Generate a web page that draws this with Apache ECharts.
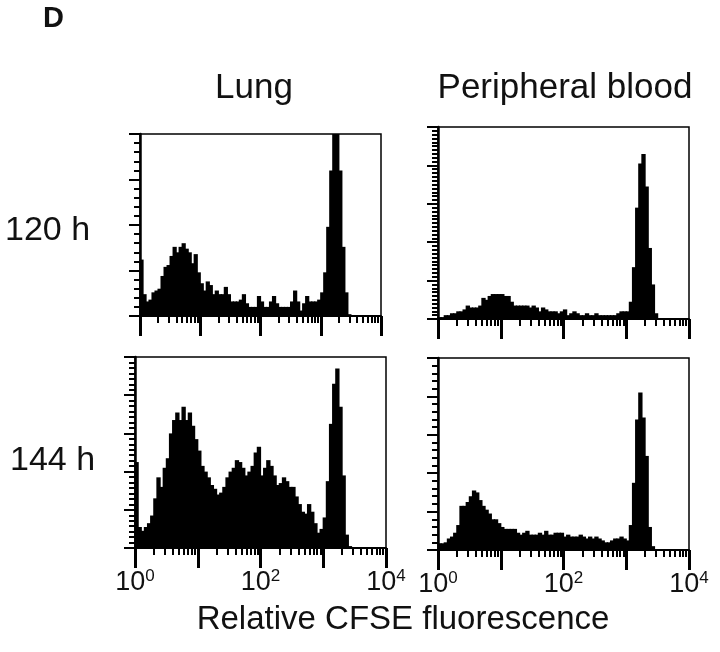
<!DOCTYPE html>
<html>
<head>
<meta charset="utf-8">
<script src="https://cdn.jsdelivr.net/npm/echarts@6/dist/echarts.min.js"></script>
<style>
  html, body { margin: 0; padding: 0; background: #fff; }
  #chart { width: 720px; height: 652px; }
</style>
</head>
<body>
<div id="chart"></div>
<script>
// ---- data (x bins are in log10 units, 0.05 decade per bin, from 10^0 to 10^4) ----
const binWidth = 0.05;
const tickExponents = [0, 2, 4];
const panelTitles = ['Lung', 'Peripheral blood'];
const rowLabels = ['120 h', '144 h'];
const axisTitle = 'Relative CFSE fluorescence';
const panelLetter = 'D';

// Lung, 120 h (relative event counts, % of panel height)
const lung120 = [31, 12, 8, 9, 13, 14, 15, 22, 27, 28,
                 33, 38, 35, 38, 40, 37, 35, 29, 34, 24,
                 18, 14, 19, 17, 12, 14, 12, 12, 16, 12,
                 8, 8, 8, 9, 12, 7, 5, 5, 5, 11,
                 8, 5, 5, 8, 11, 7, 5, 5, 5, 5,
                 8, 14, 8, 3, 7, 11, 8, 8, 8, 9,
                 13, 24, 49, 80, 100, 100, 80, 38, 13, 1,
                 0, 0, 0, 0, 0, 0, 0, 0, 0, 0];
// Peripheral blood, 120 h
const blood120 = [1, 1, 2, 2, 3, 3, 4, 4, 5, 7,
                  6, 6, 6, 7, 11, 10, 12, 13, 13, 13,
                  13, 12, 12, 9, 7, 7, 7, 7, 7, 6,
                  7, 6, 4, 6, 5, 4, 4, 4, 3, 4,
                  5, 2, 3, 4, 3, 2, 2, 3, 2, 2,
                  3, 2, 2, 2, 2, 2, 2, 3, 4, 4,
                  4, 9, 27, 58, 81, 86, 69, 37, 18, 3,
                  0, 0, 0, 0, 0, 0, 0, 0, 0, 0];
// Lung, 144 h
const lung144 = [45, 11, 9, 11, 13, 17, 26, 37, 32, 42,
                 47, 60, 67, 71, 67, 74, 67, 71, 64, 57,
                 51, 43, 40, 37, 33, 31, 28, 29, 32, 37,
                 40, 42, 46, 45, 42, 38, 40, 43, 50, 53,
                 38, 42, 46, 43, 38, 33, 34, 37, 35, 32,
                 32, 27, 23, 19, 18, 23, 19, 13, 8, 10,
                 16, 35, 65, 86, 94, 74, 38, 7, 1, 0,
                 0, 0, 0, 0, 0, 0, 0, 0, 0, 0];
// Peripheral blood, 144 h
const blood144 = [3.5, 3.5, 4, 6, 7, 9, 13, 23, 23, 25,
                  28, 31, 30, 26, 23, 21, 19, 16, 16, 14,
                  12, 11, 11, 11, 11, 9, 8, 9, 10, 8,
                  8, 8, 9, 8, 10, 8, 8, 9, 9, 9,
                  7, 8, 7, 7, 7, 8, 7, 6, 7, 6,
                  7, 6, 5, 4, 4, 5, 6, 6, 7, 6,
                  5, 13, 35, 68, 82, 69, 49, 12, 2, 0,
                  0, 0, 0, 0, 0, 0, 0, 0, 0, 0];

// ---- layout / style ----
const FONT = '"Liberation Sans", Arial, Helvetica, sans-serif';
const panels = [
  { data: lung120,  grid: { left: 140, top: 134, width: 241, height: 182 }, yMax: 100, yInt: 25, ySplit: 5,  labels: false },
  { data: blood120, grid: { left: 438, top: 127, width: 251, height: 192 }, yMax: 100, yInt: 20, ySplit: 10, labels: false },
  { data: lung144,  grid: { left: 135, top: 357, width: 251, height: 191 }, yMax: 100, yInt: 20, ySplit: 7,  labels: true },
  { data: blood144, grid: { left: 438, top: 358, width: 251, height: 192 }, yMax: 100, yInt: 20, ySplit: 5,  labels: true }
];

// each bin drawn as a bar centred in its bin
function toBins(vals) {
  return vals.map((v, i) => [(i + 0.5) * binWidth, v]);
}

// log-spaced minor tick positions (2..9 within each decade)
const minorTickPos = [];
for (let d = 0; d < 4; d++) {
  for (let k = 2; k <= 9; k++) minorTickPos.push(d + Math.log10(k));
}

const grids = [], xAxes = [], yAxes = [], series = [];
panels.forEach((p, i) => {
  grids.push(Object.assign({ show: true, borderColor: '#000', borderWidth: 1.5, backgroundColor: 'transparent' }, p.grid));
  xAxes.push({
    type: 'value', gridIndex: i, position: 'bottom', min: 0, max: 4, interval: 1,
    axisLine: { show: true, lineStyle: { color: '#000', width: 2 } },
    axisTick: { show: true, inside: false, length: 20, lineStyle: { color: '#000', width: 3 } },
    splitLine: { show: false },
    axisLabel: {
      show: p.labels, customValues: tickExponents, margin: 20,
      formatter: v => '{b|10}{s|' + Math.round(v) + '}',
      rich: {
        b: { fontSize: 27, fontFamily: FONT, color: '#111', lineHeight: 30 },
        s: { fontSize: 17, fontFamily: FONT, color: '#111', verticalAlign: 'top', lineHeight: 18 }
      }
    }
  });
  xAxes.push({
    type: 'value', gridIndex: i, position: 'bottom', min: 0, max: 4,
    axisLine: { show: false },
    axisTick: { show: true, inside: false, length: 7, customValues: minorTickPos, lineStyle: { color: '#000', width: 2 } },
    axisLabel: { show: false },
    splitLine: { show: false }
  });
  yAxes.push({
    type: 'value', gridIndex: i, min: 0, max: p.yMax, interval: p.yInt,
    axisLine: { show: true, lineStyle: { color: '#000', width: 2.5 } },
    axisTick: { show: true, inside: false, length: 11, lineStyle: { color: '#000', width: 2 } },
    minorTick: { show: true, splitNumber: p.ySplit, length: 6, lineStyle: { color: '#000', width: 2 } },
    axisLabel: { show: false },
    splitLine: { show: false }
  });
  // bar width: one bin in pixels plus a hair of overlap so neighbouring bins merge
  const binPx = p.grid.width * binWidth / 4;
  series.push({
    type: 'bar', xAxisIndex: i * 2, yAxisIndex: i,
    data: toBins(p.data), barWidth: binPx + 1.2, barGap: '-100%',
    itemStyle: { color: '#000' },
    animation: false, silent: true
  });
});

const textStyle = (txt, x, y, size, align, weight) => ({
  type: 'text', x: x, y: y,
  style: { text: txt, fill: '#111', font: (weight || 'normal') + ' ' + size + 'px ' + FONT, textAlign: align, textVerticalAlign: 'middle' }
});

const option = {
  backgroundColor: '#fff',
  animation: false,
  grid: grids, xAxis: xAxes, yAxis: yAxes, series: series,
  graphic: [
    textStyle(panelLetter, 43, 19, 29, 'left', 'bold'),
    textStyle(panelTitles[0], 254, 88, 35, 'center'),
    textStyle(panelTitles[1], 565, 88, 35, 'center'),
    textStyle(rowLabels[0], 5, 231, 34, 'left'),
    textStyle(rowLabels[1], 10, 461, 34, 'left'),
    textStyle(axisTitle, 403, 620, 33, 'center')
  ]
};

const chart = echarts.init(document.getElementById('chart'), null, { renderer: 'canvas' });
chart.setOption(option);
</script>
</body>
</html>
